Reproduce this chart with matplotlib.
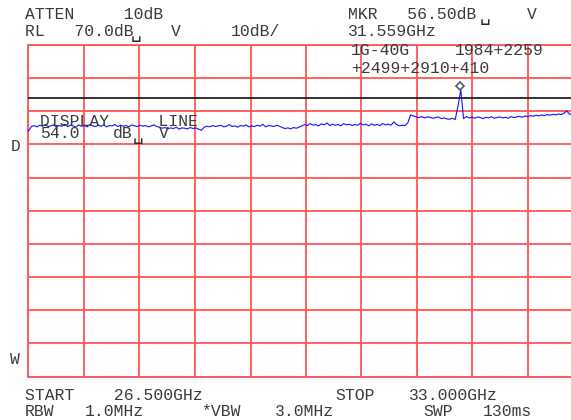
import numpy as np
import matplotlib
matplotlib.use('Agg')
import matplotlib.pyplot as plt
import matplotlib.transforms as mtransforms

# sweep settings
f_start = 26.5   # GHz
f_stop = 33.0    # GHz
ref_level = 70.0  # dB
db_per_div = 10.0
display_line = 54.0
mkr_freq = [31.559]
mkr_level = [56.50]

# trace levels (dB), 200 points across the sweep
trace_db = [
    44.0, 45.4, 45.7, 45.3, 45.8, 45.5, 46.0, 45.4, 45.6, 45.9, 45.3, 45.7, 45.5, 46.1, 45.4, 45.8, 45.6, 45.2, 45.9, 45.5,
    45.7, 45.3, 46.0, 45.6, 45.4, 45.8, 45.5, 45.9, 45.3, 45.7, 45.6, 46.0, 45.4, 45.8, 45.5, 45.7, 45.3, 45.9, 45.6, 45.4,
    45.8, 45.5, 45.7, 45.3, 45.6, 45.9, 45.4, 45.2, 44.9, 45.1, 44.7, 45.0, 44.8, 45.2, 44.6, 45.0, 44.9, 44.7, 45.1, 44.8,
    45.0, 44.6, 44.3, 45.2, 45.5, 45.3, 45.7, 45.4, 45.6, 45.8, 45.3, 45.5, 46.0, 45.4, 45.6, 45.2, 45.7, 45.5, 45.9, 45.3,
    45.6, 45.4, 45.8, 45.5, 46.1, 45.3, 45.7, 45.6, 45.4, 45.8, 45.5, 45.1, 44.8, 45.0, 44.7, 45.1, 44.9, 45.2, 45.6, 46.0,
    45.7, 46.3, 45.8, 46.0, 45.6, 46.2, 45.9, 46.5, 45.7, 46.1, 45.8, 46.0, 45.6, 46.3, 45.9, 46.1, 45.7, 46.0, 45.8, 46.4,
    45.9, 46.1, 45.6, 46.2, 45.8, 46.0, 45.7, 46.3, 45.9, 46.1, 45.8, 46.8, 46.0, 45.6, 45.8, 45.7, 46.5, 48.9, 48.6, 48.3,
    48.1, 48.4, 48.0, 48.3, 48.2, 47.9, 48.1, 48.3, 47.8, 48.0, 47.7, 47.6, 47.9, 47.5, 51.6, 56.5, 47.8, 48.4, 48.0, 48.2,
    47.9, 48.3, 48.1, 47.8, 48.2, 48.0, 48.4, 47.9, 48.1, 48.3, 48.0, 48.2, 47.9, 48.4, 48.1, 48.3, 48.5, 48.2, 48.6, 48.4,
    48.7, 48.5, 48.8, 48.6, 48.9, 48.7, 49.0, 48.8, 49.1, 48.9, 49.2, 49.0, 49.4, 50.1, 49.1, 49.3, 49.2, 49.5, 49.3, 49.4,
]
freq = np.linspace(f_start, f_stop, len(trace_db))

W, H = 571, 420
fig = plt.figure(figsize=(W / 100, H / 100), dpi=100)
fig.patch.set_facecolor('white')

# graticule: left 28.5px, top 45px, 555px x 331.5px (runs off the right edge)
ax = fig.add_axes([28.5 / W, 1 - 376.5 / H, 555 / W, 331.5 / H])
ax.set_xlim(f_start, f_stop)
ax.set_ylim(ref_level - 10 * db_per_div, ref_level)
ax.set_xticks(np.linspace(f_start, f_stop, 11))
ax.set_yticks(np.arange(ref_level - 10 * db_per_div, ref_level + 1, db_per_div))
ax.tick_params(length=0, labelbottom=False, labelleft=False)
ax.grid(True, color='#ff5555', lw=1.3)
for s in ax.spines.values():
    s.set_color('#ff5555')
    s.set_linewidth(1.3)

ax.axhline(display_line, color='#222222', lw=1.3, zorder=3)
ax.plot(freq, trace_db, color='#1414ff', lw=0.8, zorder=4)

off = mtransforms.offset_copy(ax.transData, fig=fig, x=0, y=4, units='dots')
ax.plot(mkr_freq, mkr_level, marker='D', ms=4.5, mfc='none', mec='#555577',
        mew=1.2, transform=off, zorder=5)

txt_kw = dict(family=['Liberation Mono', 'DejaVu Sans Mono'], fontsize=11.8,
              color='#3a3a3a', zorder=6)


def put(x, y, s, **kw):
    # x, y in screen pixels (top-left origin), y = baseline
    d = dict(txt_kw)
    d.update(kw)
    fig.text(x / W, 1 - y / H, s, va='baseline', ha='left', **d)


def blank(x, y):
    # the little "space" symbol the analyzer draws after dB
    fig.text(x / W, 1 - y / H, '\u2423', va='baseline', ha='left',
             family=['DejaVu Sans Mono'], fontsize=13, color='#2a2a2a', zorder=6)


put(25, 19, 'ATTEN     10dB')
put(25, 36, 'RL   70.0dB')
blank(131, 38)
put(171, 36, 'V')
put(231, 36, '10dB/')
put(348, 19, 'MKR   56.50dB')
blank(480, 21)
put(527, 19, 'V')
put(348, 36, '31.559GHz')
put(351, 55, '1G-40G')
put(455, 55, '1984+2259')
put(351, 73, '+2499+2910+410')

put(40, 126, 'DISPLAY     LINE')
put(40, 138, '54.0')
put(113, 138, 'dB')
blank(133, 140)
put(159, 138, 'V')

put(11, 151, 'D')
put(10, 364, 'W')

put(25, 400, 'START    26.500GHz')
put(335, 400, 'STOP')
put(409, 400, '33.000GHz')
put(25, 416, 'RBW')
put(85, 416, '1.0MHz')
put(201, 416, '*VBW')
put(275, 416, '3.0MHz')
put(423, 416, 'SWP')
put(483, 416, '130ms')

fig.savefig('out.png', dpi=100)
